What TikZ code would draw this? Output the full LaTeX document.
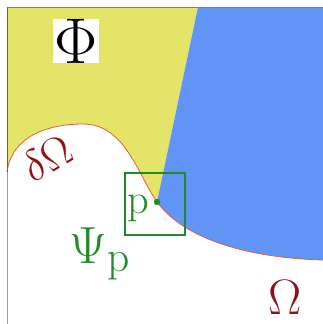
\documentclass[tikz,border=0pt]{standalone}
\usepackage{graphicx}
\usetikzlibrary{positioning}

\definecolor{phiyellow}{RGB}{228,228,104}
\definecolor{setblue}{RGB}{96,148,245}
\definecolor{omegared}{RGB}{145,18,22}
\definecolor{psigreen}{RGB}{36,138,40}
\definecolor{edgered}{RGB}{222,96,72}

% scaled label text (base size \Huge)
\newcommand{\biglbl}[2]{\scalebox{#1}{\Huge #2}}

\begin{document}
\begin{tikzpicture}[x=1pt, y=-1pt,
  % label styles
  redlbl/.style={text=omegared, inner sep=0pt},
  greenlbl/.style={text=psigreen, inner sep=0pt},
  boxlbl/.style={fill=white, inner sep=0pt, minimum width=46pt, minimum height=39pt},
]
\useasboundingbox (0,0) rectangle (323,324);

% === key points ===
\coordinate (TL) at (7,7);
\coordinate (TR) at (323,7);
\coordinate (BL) at (7,324);
\coordinate (cut) at (198,7);
\coordinate (p) at (157,202);
\coordinate (L) at (7,172);
\coordinate (peak) at (83,124);
\coordinate (R) at (323,260);

% === regions ===
\fill[phiyellow] (TL) -- (cut) -- (p) .. controls (138,175) and (125,124) .. (peak)
  .. controls (50,124) and (12,135) .. (L) -- cycle;
\fill[setblue] (cut) -- (TR) -- (R) .. controls (250,258) and (185,240) .. (p) -- cycle;

% === boundary and frame ===
\draw[edgered, line width=0.8pt] (L) .. controls (12,135) and (50,124) .. (peak)
  .. controls (125,124) and (138,175) .. (p) .. controls (185,240) and (250,258) .. (R);
\draw[gray, line width=0.8pt] (TL) -- (TR);
\draw[olive!70!black, line width=0.8pt] (TL) -- (L);
\draw[red!40!pink, line width=0.8pt] (L) -- (BL);

% === window around p ===
\draw[psigreen, line width=1.5pt] (125,173) rectangle (185,235);
\fill[psigreen] (p) circle (3.2);

% === labels ===
\node[boxlbl] (phi) at (76,41) {\biglbl{2.6}{$\Phi$}};
\node[redlbl, rotate=31] (dom) at (47,158) {\biglbl{1.75}{$\delta\Omega$}};
\node[greenlbl] (plbl) at (138,208) {\biglbl{1.7}{p}};
\node[greenlbl] (psi) at (100,254) {\biglbl{2.1}{$\Psi_{\mathrm{p}}$}};
\node[redlbl] (om) at (285,297) {\biglbl{2.0}{$\Omega$}};
\end{tikzpicture}
\end{document}
